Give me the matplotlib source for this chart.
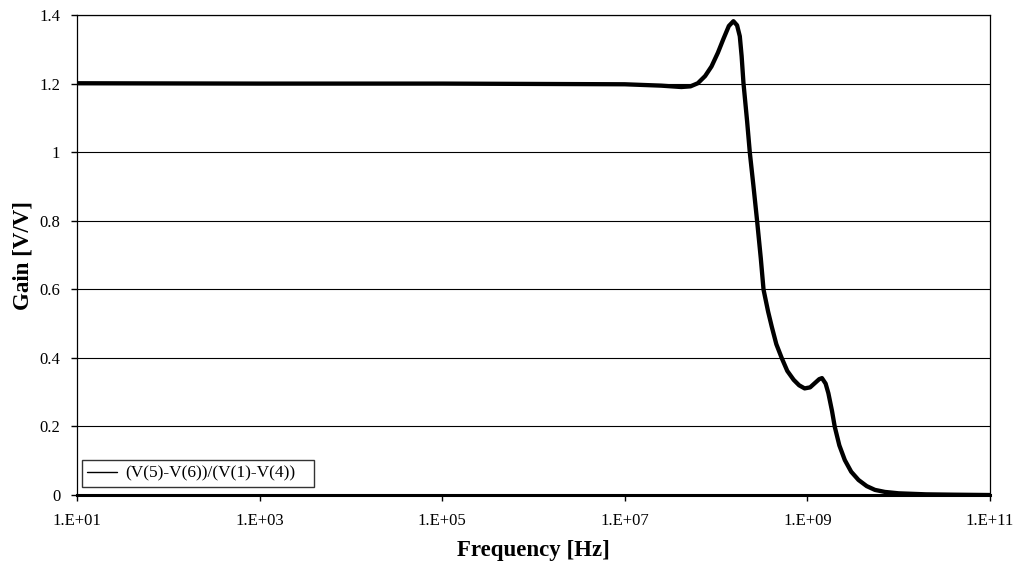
import numpy as np
import matplotlib.pyplot as plt

# gain curve (log10 of frequency, gain in V/V)
log_freq = [1.0, 3.0, 5.0, 6.0, 7.0, 7.4, 7.62, 7.72, 7.8, 7.88, 7.95, 8.02, 8.08,
            8.14, 8.19, 8.23, 8.26, 8.28, 8.30, 8.34, 8.37, 8.41, 8.45, 8.49, 8.52,
            8.57, 8.61, 8.66, 8.72, 8.78, 8.85, 8.91, 8.97, 9.03, 9.08, 9.13, 9.16,
            9.20, 9.23, 9.27, 9.30, 9.35, 9.41, 9.48, 9.56, 9.65, 9.74, 9.85, 10.0,
            10.3, 10.6, 11.0]
gain = [1.201, 1.200, 1.200, 1.199, 1.198, 1.194, 1.190, 1.192, 1.201, 1.222, 1.250,
        1.290, 1.330, 1.368, 1.382, 1.370, 1.338, 1.280, 1.202, 1.090, 0.998, 0.900,
        0.798, 0.690, 0.599, 0.535, 0.491, 0.440, 0.399, 0.362, 0.336, 0.320, 0.311,
        0.314, 0.326, 0.338, 0.341, 0.325, 0.297, 0.245, 0.199, 0.145, 0.102, 0.068,
        0.044, 0.026, 0.015, 0.009, 0.005, 0.002, 0.001, 0.0]
xticks = [1e1, 1e3, 1e5, 1e7, 1e9, 1e11]
xtick_labels = ["1.E+01", "1.E+03", "1.E+05", "1.E+07", "1.E+09", "1.E+11"]
yticks = [0, 0.2, 0.4, 0.6, 0.8, 1, 1.2, 1.4]
ytick_labels = ["0", "0.2", "0.4", "0.6", "0.8", "1", "1.2", "1.4"]

plt.rcParams["font.family"] = ["Liberation Serif", "DejaVu Serif"]

fig = plt.figure(figsize=(10.21, 5.69), dpi=100)
ax = fig.add_axes([0.0754, 0.130, 0.8942, 0.8436])

freq = 10 ** np.array(log_freq)
ax.plot(freq, gain, color="black", lw=3.1, solid_capstyle="round",
        solid_joinstyle="round", label="(V(5)-V(6))/(V(1)-V(4))", zorder=3)

ax.set_xscale("log")
ax.set_xlim(1e1, 1e11)
ax.set_ylim(0, 1.4)
ax.set_xticks(xticks)
ax.set_xticklabels(xtick_labels)
ax.minorticks_off()
ax.set_yticks(yticks)
ax.set_yticklabels(ytick_labels)
ax.tick_params(axis="both", direction="out", length=4, width=1, labelsize=12,
               color="black")
ax.tick_params(axis="x", pad=9)
ax.tick_params(axis="y", pad=8)
ax.grid(axis="y", color="black", lw=0.8)

for s in ax.spines.values():
    s.set_color("black")
    s.set_linewidth(0.9)
ax.spines["bottom"].set_linewidth(2.2)

ax.set_xlabel("Frequency [Hz]", fontsize=16.5, fontweight="bold", labelpad=8)
ax.set_ylabel("Gain [V/V]", fontsize=16.5, fontweight="bold", labelpad=4)

leg = ax.legend(loc="lower left", bbox_to_anchor=(0.0055, 0.0167, 0.254, 0.06),
                mode="expand", fontsize=12.5, frameon=True, fancybox=False,
                handlelength=1.7, handletextpad=0.5, borderpad=0.3, borderaxespad=0)
leg.get_frame().set_edgecolor("black")
leg.get_frame().set_linewidth(1)
leg.legend_handles[0].set_linewidth(1)

fig.savefig("out.png", dpi=100, facecolor="white")
